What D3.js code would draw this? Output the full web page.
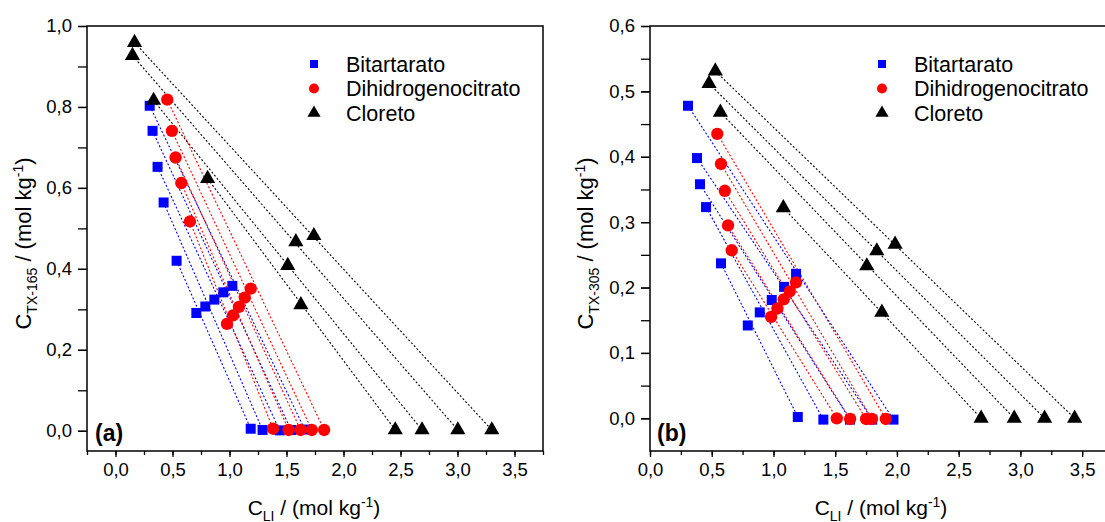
<!DOCTYPE html>
<html>
<head>
<meta charset="utf-8">
<script src="https://cdn.jsdelivr.net/npm/d3@7"></script>
<style>
  body { margin: 0; background: #fff; }
  text { font-family: "Liberation Sans", Arial, sans-serif; fill: #000; }
</style>
</head>
<body>
<svg id="chart" width="1105" height="522"></svg>
<script>
// panel (a) TX-165
let bitA_top = [[0.30, 0.803], [0.325, 0.741], [0.369, 0.652], [0.422, 0.564], [0.536, 0.420]],
  bitA_mid = [[1.025, 0.358], [0.946, 0.342], [0.867, 0.324], [0.788, 0.307], [0.709, 0.291]],
  bitA_bot = [[1.66, 0.003], [1.54, 0.002], [1.44, 0.001], [1.29, 0.002], [1.186, 0.005]]
let citA_top = [[0.454, 0.818], [0.495, 0.741], [0.527, 0.675], [0.577, 0.612], [0.653, 0.517]],
  citA_mid = [[1.186, 0.351], [1.134, 0.329], [1.083, 0.306], [1.031, 0.285], [0.978, 0.264]],
  citA_bot = [[1.830, 0.002], [1.722, 0.002], [1.623, 0.002], [1.518, 0.002], [1.382, 0.005]]
let cloA_top = [[0.167, 0.959], [0.149, 0.927], [0.334, 0.816], [0.808, 0.623]],
  cloA_mid = [[1.740, 0.482], [1.582, 0.467], [1.511, 0.408], [1.626, 0.311]],
  cloA_bot = [[3.301, 0.002], [3.003, 0.002], [2.689, 0.002], [2.454, 0.002]]

// panel (b) TX-305
let bitB_top = [[0.308, 0.478], [0.381, 0.398], [0.405, 0.358], [0.454, 0.323], [0.575, 0.237]],
  bitB_mid = [[1.183, 0.221], [1.086, 0.201], [0.986, 0.181], [0.889, 0.162], [0.792, 0.142]],
  bitB_bot = [[1.972, -0.002], [1.80, -0.002], [1.62, -0.002], [1.404, -0.002], [1.197, 0.002]]
let citB_top = [[0.545, 0.435], [0.575, 0.389], [0.606, 0.348], [0.632, 0.295], [0.662, 0.257]],
  citB_mid = [[1.183, 0.208], [1.132, 0.194], [1.083, 0.182], [1.032, 0.168], [0.981, 0.155]],
  citB_bot = [[1.910, -0.001], [1.797, -0.001], [1.750, -0.001], [1.621, -0.001], [1.513, 0.0]]
let cloB_top = [[0.529, 0.531], [0.478, 0.512], [0.570, 0.468], [1.080, 0.322]],
  cloB_mid = [[1.985, 0.266], [1.837, 0.256], [1.756, 0.233], [1.878, 0.162]],
  cloB_bot = [[3.439, 0.0], [3.196, 0.0], [2.950, 0.0], [2.682, 0.0]]

let seriesNames = ["Bitartarato", "Dihidrogenocitrato", "Cloreto"],
  colors = ["#0000ff", "#ff0000", "#000000"],
  shapes = [d3.symbolSquare, d3.symbolCircle, d3.symbolTriangle],
  sizes = [100, 120, 100],
  legendSizes = [64, 80, 75]

let xTicks = [0, 0.5, 1, 1.5, 2, 2.5, 3, 3.5],
  yTicksA = [0, 0.2, 0.4, 0.6, 0.8, 1.0],
  yTicksB = [0, 0.1, 0.2, 0.3, 0.4, 0.5, 0.6]

let panels = [
  {
    tag: "(a)", sub: "TX-165",
    x: { domain: [-0.25, 3.75], range: [87, 543] },
    y: { domain: [-0.05, 1.0], range: [451, 26] },
    yTicks: yTicksA, yMinor: d3.range(0, 1.01, 0.1),
    xMinor: d3.range(-0.25, 3.76, 0.25),
    data: [[bitA_top, bitA_mid, bitA_bot], [citA_top, citA_mid, citA_bot], [cloA_top, cloA_mid, cloA_bot]],
    legend: [314, 64], tagPos: [95, 441], ylabX: 31, xlabX: 314
  },
  {
    tag: "(b)", sub: "TX-305",
    x: { domain: [0, 3.75], range: [650, 1113] },
    y: { domain: [-0.05, 0.6], range: [451, 26] },
    yTicks: yTicksB, yMinor: d3.range(0, 0.601, 0.05),
    xMinor: d3.range(0, 3.76, 0.25),
    data: [[bitB_top, bitB_mid, bitB_bot], [citB_top, citB_mid, citB_bot], [cloB_top, cloB_mid, cloB_bot]],
    legend: [882, 64], tagPos: [657, 441], ylabX: 593, xlabX: 881
  }
]

let fmt = d => d3.format(".1f")(d).replace(".", ",")
let svg = d3.select("#chart")

function drawPanel(p) {
  let x = d3.scaleLinear().domain(p.x.domain).range(p.x.range),
    y = d3.scaleLinear().domain(p.y.domain).range(p.y.range)
  let g = svg.append("g")
  let [x0, x1] = p.x.range, [yb, yt] = p.y.range

  // tie lines
  p.data.forEach((s, i) => {
    g.selectAll(null)
      .data(d3.zip(s[0], s[2])).enter()
      .append("line")
      .attr("x1", d => x(d[0][0])).attr("y1", d => y(d[0][1]))
      .attr("x2", d => x(d[1][0])).attr("y2", d => y(d[1][1]))
      .attr("stroke", colors[i])
      .attr("stroke-width", 1.1)
      .attr("stroke-dasharray", "2,2")
  })

  // points
  p.data.forEach((s, i) => {
    g.selectAll(null)
      .data(s[0].concat(s[1], s[2])).enter()
      .append("path")
      .attr("d", d3.symbol().type(shapes[i]).size(sizes[i]))
      .attr("transform", d => `translate(${x(d[0])},${y(d[1])})`)
      .attr("fill", colors[i])
  })

  // frame
  g.append("rect")
    .attr("x", x0).attr("y", yt)
    .attr("width", x1 - x0).attr("height", yb - yt)
    .attr("fill", "none").attr("stroke", "#000").attr("stroke-width", 1.5)

  // axes
  g.append("g").attr("transform", `translate(0,${yb})`)
    .call(d3.axisBottom(x).tickValues(xTicks).tickFormat(fmt).tickSize(6).tickPadding(6))
  g.append("g").attr("transform", `translate(0,${yb})`)
    .call(d3.axisBottom(x).tickValues(p.xMinor).tickFormat("").tickSize(4))
  g.append("g").attr("transform", `translate(${x0},0)`)
    .call(d3.axisLeft(y).tickValues(p.yTicks).tickFormat(fmt).tickSize(9).tickPadding(6))
  g.append("g").attr("transform", `translate(${x0},0)`)
    .call(d3.axisLeft(y).tickValues(p.yMinor).tickFormat("").tickSize(9))
  g.selectAll(".domain").remove()
  g.selectAll(".tick line").attr("stroke", "#000").attr("stroke-width", 1.3)
  g.selectAll(".tick text").attr("font-size", 18.5).attr("fill", "#000")
    .style("font-family", '"Liberation Sans", Arial, sans-serif')

  // legend
  seriesNames.forEach((n, i) => {
    let ly = p.legend[1] + i * 24.5
    g.append("path")
      .attr("d", d3.symbol().type(shapes[i]).size(legendSizes[i]))
      .attr("transform", `translate(${p.legend[0]},${ly})`)
      .attr("fill", colors[i])
    g.append("text")
      .attr("x", p.legend[0] + 32).attr("y", ly + 7.5)
      .attr("font-size", 21.5)
      .text(n)
  })

  // panel tag
  g.append("text")
    .attr("x", p.tagPos[0]).attr("y", p.tagPos[1])
    .attr("font-size", 23).attr("font-weight", "bold")
    .text(p.tag)

  // x label
  let xl = g.append("text")
    .attr("x", p.xlabX).attr("y", 515)
    .attr("text-anchor", "middle")
    .attr("font-size", 21)
  xl.append("tspan").text("C")
  xl.append("tspan").attr("font-size", 14).attr("dy", 6).text("LI")
  xl.append("tspan").attr("dy", -6).text(" / (mol kg")
  xl.append("tspan").attr("font-size", 14).attr("dy", -8).text("-1")
  xl.append("tspan").attr("dy", 8).text(")")

  // y label
  let yc = (yb + yt) / 2 + 5
  let yl = g.append("text")
    .attr("transform", `translate(${p.ylabX},${yc}) rotate(-90)`)
    .attr("text-anchor", "middle")
    .attr("font-size", 22)
  yl.append("tspan").text("C")
  yl.append("tspan").attr("font-size", 14).attr("dy", 6).text(p.sub)
  yl.append("tspan").attr("dy", -6).text(" / (mol kg")
  yl.append("tspan").attr("font-size", 14).attr("dy", -8).text("-1")
  yl.append("tspan").attr("dy", 8).text(")")
}

panels.forEach(drawPanel)
</script>
</body>
</html>
